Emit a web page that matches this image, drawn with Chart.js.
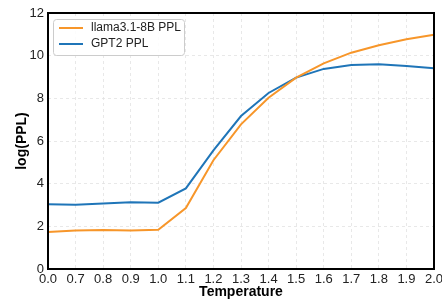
<!DOCTYPE html>
<html lang="en">
<head>
    <meta charset="UTF-8">
    <title>log(PPL) vs Temperature</title>
    <script src="https://cdn.jsdelivr.net/npm/chart.js"></script>
    <style>
        html, body { margin: 0; padding: 0; background: #fff; }
        #wrap { width: 442px; height: 300px; }
    </style>
</head>
<body>
    <div id="wrap"><canvas id="pplChart" width="442" height="300"></canvas></div>

    <script>
        const temperatures = ['0.0', '0.7', '0.8', '0.9', '1.0', '1.1', '1.2', '1.3', '1.4', '1.5', '1.6', '1.7', '1.8', '1.9', '2.0'];
        const llamaPPL = [1.74, 1.8, 1.83, 1.8, 1.84, 2.86, 5.1, 6.78, 8.03, 8.97, 9.64, 10.14, 10.49, 10.77, 10.98];
        const gpt2PPL = [3.04, 3.01, 3.07, 3.13, 3.11, 3.78, 5.56, 7.17, 8.25, 8.97, 9.38, 9.56, 9.6, 9.52, 9.41];
        const yTicks = [0, 2, 4, 6, 8, 10, 12];

        const fontFamily = '"Liberation Sans", Arial, sans-serif';

        // plot frame + legend box
        const framePlugin = {
            id: 'frame',
            afterDraw(chart) {
                const { ctx, chartArea: a } = chart;
                ctx.save();
                ctx.strokeStyle = '#000';
                ctx.lineWidth = 2;
                ctx.strokeRect(a.left, a.top, a.right - a.left, a.bottom - a.top);

                // legend
                const x0 = a.left + 5, y0 = a.top + 6, w = 131, h = 36;
                ctx.fillStyle = 'rgba(255,255,255,0.85)';
                ctx.strokeStyle = '#cccccc';
                ctx.lineWidth = 1;
                ctx.beginPath();
                ctx.roundRect(x0 + 0.5, y0 + 0.5, w, h, 3);
                ctx.fill();
                ctx.stroke();
                ctx.font = '12px ' + fontFamily;
                ctx.textBaseline = 'middle';
                chart.data.datasets.forEach((ds, i) => {
                    const yy = y0 + 9 + i * 16;
                    ctx.strokeStyle = ds.borderColor;
                    ctx.lineWidth = 2;
                    ctx.beginPath();
                    ctx.moveTo(x0 + 6, yy);
                    ctx.lineTo(x0 + 30, yy);
                    ctx.stroke();
                    ctx.fillStyle = '#222';
                    ctx.fillText(ds.label, x0 + 38, yy);
                });
                ctx.restore();
            }
        };

        new Chart(document.getElementById('pplChart'), {
            type: 'line',
            data: {
                labels: temperatures,
                datasets: [
                    {
                        label: 'llama3.1-8B PPL',
                        data: llamaPPL,
                        borderColor: '#f7962a',
                        borderWidth: 2,
                        pointRadius: 0,
                        tension: 0,
                        fill: false
                    },
                    {
                        label: 'GPT2 PPL',
                        data: gpt2PPL,
                        borderColor: '#1f75b8',
                        borderWidth: 2,
                        pointRadius: 0,
                        tension: 0,
                        fill: false
                    }
                ]
            },
            options: {
                responsive: false,
                animation: false,
                layout: { padding: { top: 13, right: 8, left: 0, bottom: 0 } },
                plugins: {
                    legend: { display: false },
                    tooltip: { enabled: false }
                },
                scales: {
                    x: {
                        offset: false,
                        grid: { color: '#e2e2e2', lineWidth: 0.8, drawTicks: false },
                        border: { display: false, dash: [3, 3] },
                        ticks: {
                            color: '#222',
                            font: { family: fontFamily, size: 13 },
                            padding: 3,
                            maxRotation: 0,
                            autoSkip: false
                        },
                        title: {
                            display: true,
                            text: 'Temperature',
                            color: '#000',
                            font: { family: fontFamily, size: 14, weight: 'bold' },
                            padding: { top: 0, bottom: -1 }
                        },
                        afterFit(scale) {
                            scale.height = 31;
                            scale.paddingLeft = 0;
                            scale.paddingRight = 0;
                        }
                    },
                    y: {
                        min: 0,
                        max: 12,
                        afterBuildTicks(scale) { scale.ticks = yTicks.map(v => ({ value: v })); },
                        grid: { color: '#e2e2e2', lineWidth: 0.8, drawTicks: false },
                        border: { display: false, dash: [3, 3] },
                        ticks: {
                            color: '#222',
                            font: { family: fontFamily, size: 13 },
                            padding: 4
                        },
                        title: {
                            display: true,
                            text: 'log(PPL)',
                            color: '#000',
                            font: { family: fontFamily, size: 14, weight: 'bold' },
                            padding: { top: 14, bottom: 0 }
                        },
                        afterFit(scale) {
                            scale.width = 48;
                            scale.paddingTop = 0;
                            scale.paddingBottom = 0;
                        }
                    }
                }
            },
            plugins: [framePlugin]
        });
    </script>
</body>
</html>
